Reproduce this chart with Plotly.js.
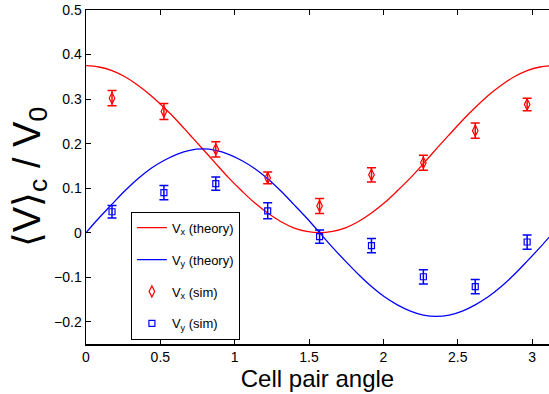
<!DOCTYPE html>
<html>
<head>
<meta charset="utf-8">
<script src="https://cdn.plot.ly/plotly-3.0.1.min.js"></script>
<style>html,body{margin:0;padding:0;background:#fff;}#chart{width:549px;height:394px;}</style>
</head>
<body>
<div id="chart"></div>
<script>
var thetaTheory = [0, 0.087, 0.175, 0.262, 0.349, 0.436, 0.524, 0.611, 0.698, 0.785, 0.873, 0.960, 1.047, 1.134, 1.222, 1.309, 1.396, 1.484, 1.571, 1.658, 1.745, 1.833, 1.920, 2.007, 2.094, 2.182, 2.269, 2.356, 2.443, 2.531, 2.618, 2.705, 2.793, 2.880, 2.967, 3.054, 3.142];
var vxTheory = [0.375, 0.372, 0.364, 0.350, 0.331, 0.308, 0.281, 0.252, 0.220, 0.188, 0.155, 0.123, 0.094, 0.067, 0.044, 0.025, 0.011, 0.003, 0.000, 0.003, 0.011, 0.025, 0.044, 0.067, 0.094, 0.123, 0.155, 0.188, 0.220, 0.252, 0.281, 0.308, 0.331, 0.350, 0.364, 0.372, 0.375];
var vyTheory = [0.000, 0.033, 0.064, 0.094, 0.121, 0.144, 0.162, 0.176, 0.185, 0.188, 0.185, 0.176, 0.162, 0.144, 0.121, 0.094, 0.064, 0.033, 0.000, -0.033, -0.064, -0.094, -0.121, -0.144, -0.162, -0.176, -0.185, -0.188, -0.185, -0.176, -0.162, -0.144, -0.121, -0.094, -0.064, -0.033, 0.000];

// Simulation points
var thetaSim = [0.175, 0.524, 0.873, 1.222, 1.571, 1.920, 2.269, 2.618, 2.967];
var vxSim = [0.302, 0.272, 0.187, 0.123, 0.060, 0.130, 0.157, 0.229, 0.288];
var vxErr = [0.017, 0.018, 0.017, 0.013, 0.017, 0.016, 0.017, 0.017, 0.014];
var vySim = [0.047, 0.090, 0.110, 0.049, -0.009, -0.029, -0.099, -0.121, -0.021];
var vyErr = [0.014, 0.016, 0.015, 0.018, 0.015, 0.016, 0.016, 0.016, 0.016];

var legendNames = ['V<sub>x</sub> (theory)', 'V<sub>y</sub> (theory)', 'V<sub>x</sub> (sim)', 'V<sub>y</sub> (sim)'];

var traces = [
  {x: thetaTheory, y: vxTheory, mode: 'lines', name: legendNames[0], legendgroup: 'a',
   line: {color: '#ff0000', width: 1.3, shape: 'spline'}},
  {x: thetaTheory, y: vyTheory, mode: 'lines', name: legendNames[1], legendgroup: 'b',
   line: {color: '#0000ff', width: 1.3, shape: 'spline'}},
  {x: thetaSim, y: vxSim, mode: 'markers', name: legendNames[2], legendgroup: 'c',
   marker: {symbol: 'diamond-tall-open', size: 8, color: '#ff0000', line: {width: 1.2, color: '#ff0000'}},
   error_y: {type: 'data', array: vxErr, visible: true, color: '#ff0000', thickness: 1.5, width: 4.5}},
  {x: thetaSim, y: vySim, mode: 'markers', name: legendNames[3], legendgroup: 'd',
   marker: {symbol: 'square-open', size: 6, color: '#0000ff', line: {width: 1.2, color: '#0000ff'}},
   error_y: {type: 'data', array: vyErr, visible: true, color: '#0000ff', thickness: 1.5, width: 4.5}}
];

var layout = {
  width: 549, height: 394,
  margin: {l: 86, r: 0, t: 10, b: 50, pad: 0},
  paper_bgcolor: '#ffffff', plot_bgcolor: '#ffffff',
  font: {family: '"Liberation Sans", Arial, sans-serif', size: 14, color: '#000'},
  showlegend: true,
  legend: {x: 0.097, y: 0.396, xanchor: 'left', yanchor: 'top',
    bgcolor: '#ffffff', bordercolor: '#000000', borderwidth: 1,
    font: {size: 13, color: '#000'}, tracegroupgap: 12, itemwidth: 30},
  xaxis: {range: [0, 3.114], tickvals: [0, 0.5, 1, 1.5, 2, 2.5, 3], ticktext: ['0','0.5','1','1.5','2','2.5','3'],
    ticks: 'inside', ticklen: 5, tickwidth: 1, tickcolor: '#000', showline: true, linecolor: '#000', linewidth: 1.5,
    mirror: 'ticks', showgrid: false, zeroline: false,
    title: {text: 'Cell pair angle', font: {size: 24}, standoff: 4}},
  yaxis: {range: [-0.25, 0.5], tickvals: [-0.2, -0.1, 0, 0.1, 0.2, 0.3, 0.4, 0.5],
    ticktext: ['\u22120.2', '\u22120.1', '0', '0.1', '0.2', '0.3', '0.4', '0.5'],
    ticks: 'inside', ticklen: 5, tickwidth: 1, tickcolor: '#000', showline: true, linecolor: '#000', linewidth: 1.5,
    showgrid: false, zeroline: false,
    title: {text: '\u27E8V\u27E9<sub>c</sub> / V<sub>0</sub>', font: {size: 38}, standoff: 2}}
};

Plotly.newPlot('chart', traces, layout, {staticPlot: true, displayModeBar: false});
</script>
</body>
</html>
